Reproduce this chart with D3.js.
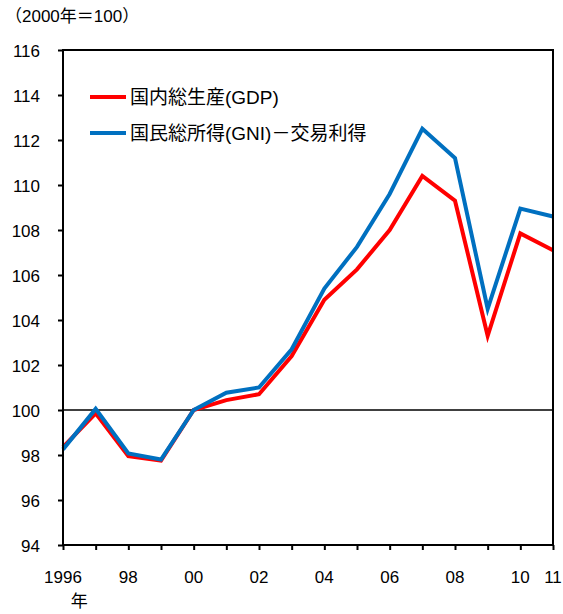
<!DOCTYPE html>
<html>
<head>
<meta charset="utf-8">
<script src="https://cdn.jsdelivr.net/npm/d3@7"></script>
<style>
  body { margin: 0; background: #fff; }
  text { font-family: "Liberation Sans", Arial, "Noto Sans CJK JP", sans-serif; fill: #000; }
</style>
</head>
<body>
<script>
var width = 563,
    height = 614;

var years = [1996, 1997, 1998, 1999, 2000, 2001, 2002, 2003, 2004, 2005, 2006, 2007, 2008, 2009, 2010, 2011];
var gdp = [98.35, 99.85, 97.95, 97.75, 100, 100.44, 100.7, 102.4, 104.9, 106.25, 108.0, 110.4, 109.3, 103.3, 107.85, 107.1];
var gni = [98.25, 100.05, 98.07, 97.8, 100, 100.77, 101.0, 102.7, 105.4, 107.25, 109.6, 112.5, 111.2, 104.5, 108.95, 108.6];
var yTicks = [94, 96, 98, 100, 102, 104, 106, 108, 110, 112, 114, 116];
var xTickLabels = [
    { year: 1996, label: '1996' },
    { year: 1998, label: '98' },
    { year: 2000, label: '00' },
    { year: 2002, label: '02' },
    { year: 2004, label: '04' },
    { year: 2006, label: '06' },
    { year: 2008, label: '08' },
    { year: 2010, label: '10' },
    { year: 2011, label: '11' }
];
var series = [
    { name: '国内総生産(GDP)', values: gdp, color: '#ff0000' },
    { name: '国民総所得(GNI)－交易利得', values: gni, color: '#0070c0' }
];

var mLeft = 63, mRight = 553, mTop = 50, mBottom = 545;

var svg = d3.select('body')
    .append('svg')
    .attr('width', width)
    .attr('height', height);

var x = d3.scaleLinear().domain([1996, 2011]).range([mLeft, mRight]);
var y = d3.scaleLinear().domain([94, 116]).range([mBottom, mTop]);

// unit label
svg.append('text')
    .attr('x', 5)
    .attr('y', 22)
    .attr('font-size', 17)
    .text('（2000年＝100）');

// y axis
var yAxis = svg.append('g')
    .attr('transform', 'translate(' + mLeft + ',0)')
    .call(d3.axisLeft(y).tickValues(yTicks).tickSize(5).tickPadding(18).tickFormat(d3.format('d')));
yAxis.select('.domain').remove();
yAxis.selectAll('line').attr('stroke', '#000').attr('stroke-width', 2);
yAxis.selectAll('text').attr('font-size', 17).attr('dy', '0.36em');

// x axis
var xAxis = svg.append('g')
    .attr('transform', 'translate(0,' + mBottom + ')')
    .call(d3.axisBottom(x).tickValues(years).tickSize(5).tickFormat(''));
xAxis.select('.domain').remove();
xAxis.selectAll('line').attr('stroke', '#000').attr('stroke-width', 2);

svg.selectAll('.xlab')
    .data(xTickLabels)
    .enter()
    .append('text')
    .attr('class', 'xlab')
    .attr('x', (d) => x(d.year))
    .attr('y', 583)
    .attr('text-anchor', 'middle')
    .attr('font-size', 17)
    .text((d) => d.label);

svg.append('text')
    .attr('x', x(1996.5))
    .attr('y', 607)
    .attr('text-anchor', 'middle')
    .attr('font-size', 17)
    .text('年');

// 100 baseline
svg.append('line')
    .attr('x1', mLeft).attr('x2', mRight)
    .attr('y1', y(100)).attr('y2', y(100))
    .attr('stroke', '#000')
    .attr('stroke-width', 1.5);

// lines
var line = d3.line()
    .x((d, i) => x(years[i]))
    .y((d) => y(d));

svg.selectAll('.series')
    .data(series)
    .enter()
    .append('path')
    .attr('class', 'series')
    .attr('d', (d) => line(d.values))
    .attr('fill', 'none')
    .attr('stroke', (d) => d.color)
    .attr('stroke-width', 4)
    .attr('stroke-linejoin', 'miter');

// frame
svg.append('rect')
    .attr('x', mLeft).attr('y', mTop)
    .attr('width', mRight - mLeft).attr('height', mBottom - mTop)
    .attr('fill', 'none')
    .attr('stroke', '#000')
    .attr('stroke-width', 2);

// legend
var legend = svg.selectAll('.legend')
    .data(series)
    .enter()
    .append('g')
    .attr('class', 'legend')
    .attr('transform', (d, i) => 'translate(90,' + (97 + i * 36) + ')');

legend.append('line')
    .attr('x1', 0).attr('x2', 36)
    .attr('stroke', (d) => d.color)
    .attr('stroke-width', 4);

legend.append('text')
    .attr('x', 40)
    .attr('dy', '0.36em')
    .attr('font-size', 19)
    .text((d) => d.name);
</script>
</body>
</html>
